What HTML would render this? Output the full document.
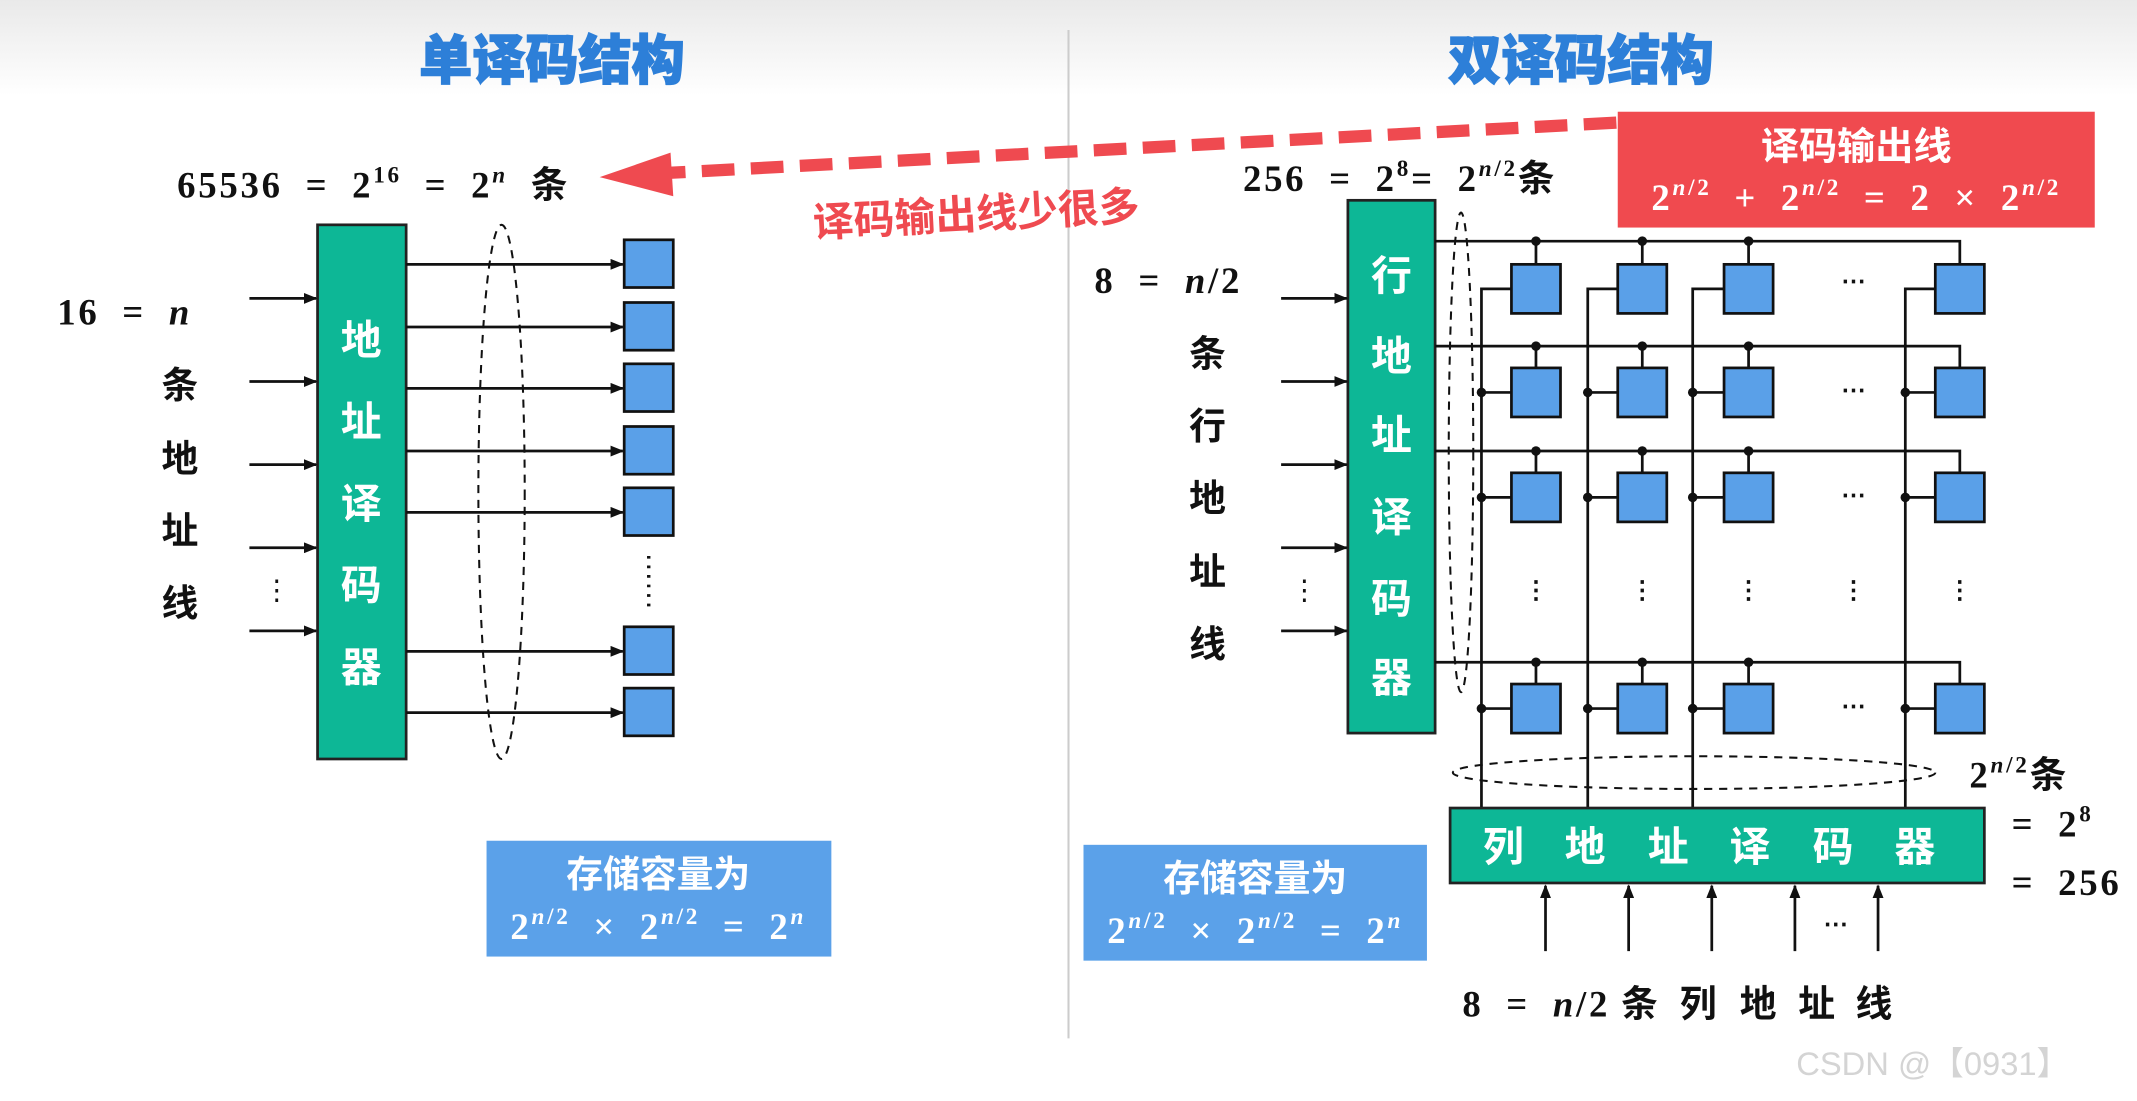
<!DOCTYPE html>
<html><head><meta charset="utf-8"><style>
html,body{margin:0;padding:0;background:#fff;}
svg{display:block;}
.cj{font-family:"Liberation Sans","Noto Sans CJK SC",sans-serif;font-weight:bold;letter-spacing:0;word-spacing:0;}
.m{font-family:"Liberation Serif","Noto Serif CJK SC",serif;font-weight:bold;letter-spacing:2px;word-spacing:8px;}
.t{font-family:"Liberation Sans","Noto Sans CJK SC",sans-serif;font-weight:900;}
</style></head><body>
<svg width="2137" height="1101" viewBox="0 0 1568 808" preserveAspectRatio="none" xmlns="http://www.w3.org/2000/svg">
<defs>
<linearGradient id="bg" x1="0" y1="0" x2="0" y2="1"><stop offset="0" stop-color="#e9e9e9"/><stop offset="1" stop-color="#ffffff"/></linearGradient>
<marker id="ar" markerWidth="10" markerHeight="8" refX="9" refY="4" orient="auto" markerUnits="userSpaceOnUse"><path d="M0,0 L10,4 L0,8 z" fill="#111"/></marker>
</defs>
<rect x="0" y="0" width="1568" height="808" fill="#fff"/>
<rect x="0" y="0" width="1568" height="70" fill="url(#bg)"/>
<line x1="784" y1="22" x2="784" y2="762" stroke="#ccc" stroke-width="1.5"/>

<text x="405" y="58" class="t" font-size="39" fill="#2d7fd8" stroke="#2d7fd8" stroke-width="1" text-anchor="middle">单译码结构</text>
<text x="1160" y="58" class="t" font-size="39" fill="#2d7fd8" stroke="#2d7fd8" stroke-width="1" text-anchor="middle">双译码结构</text>

<line x1="1186" y1="90" x2="488" y2="127" stroke="#ef4a50" stroke-width="9" stroke-dasharray="24,12"/>
<path d="M440,130 L492,112 L494,144 z" fill="#ef4a50"/>
<text x="597" y="174" class="cj" font-size="30" fill="#ef4a50" transform="rotate(-3 597 174)">译码输出线少很多</text>

<!-- LEFT -->
<text x="130" y="145" class="m" font-size="27" fill="#111">65536 = 2<tspan font-size="17" dy="-11">16</tspan><tspan dy="11"> = 2</tspan><tspan font-size="17" dy="-11" font-style="italic">n</tspan><tspan dy="11"> </tspan><tspan class="cj">条</tspan></text>
<rect x="233" y="165" width="65" height="392" fill="#0db796" stroke="#222" stroke-width="2"/>
<g class="cj" font-size="30" fill="#fff" text-anchor="middle">
<text x="265" y="260">地</text><text x="265" y="320">址</text><text x="265" y="380">译</text><text x="265" y="440">码</text><text x="265" y="500">器</text>
</g>
<g stroke="#111" stroke-width="2" marker-end="url(#ar)">
<line x1="183" y1="219" x2="232" y2="219"/><line x1="183" y1="280" x2="232" y2="280"/><line x1="183" y1="341" x2="232" y2="341"/><line x1="183" y1="402" x2="232" y2="402"/><line x1="183" y1="463" x2="232" y2="463"/>
</g>
<text x="203" y="440" font-family="Liberation Serif" font-size="20" fill="#111" text-anchor="middle">⋮</text>
<text x="42" y="238" class="m" font-size="27" fill="#111">16 =  <tspan font-style="italic">n</tspan></text>
<g class="cj" font-size="27" fill="#111" text-anchor="middle">
<text x="132" y="292">条</text><text x="132" y="346">地</text><text x="132" y="399">址</text><text x="132" y="452">线</text>
</g>
<g stroke="#111" stroke-width="2" marker-end="url(#ar)">
<line x1="298" y1="194" x2="457" y2="194"/><line x1="298" y1="240" x2="457" y2="240"/><line x1="298" y1="285" x2="457" y2="285"/><line x1="298" y1="331" x2="457" y2="331"/><line x1="298" y1="376" x2="457" y2="376"/><line x1="298" y1="478" x2="457" y2="478"/><line x1="298" y1="523" x2="457" y2="523"/>
</g>
<g fill="#5aa0e8" stroke="#111" stroke-width="2">
<rect x="458" y="176" width="36" height="35"/><rect x="458" y="222" width="36" height="35"/><rect x="458" y="267" width="36" height="35"/><rect x="458" y="313" width="36" height="35"/><rect x="458" y="358" width="36" height="35"/><rect x="458" y="460" width="36" height="35"/><rect x="458" y="505" width="36" height="35"/>
</g>
<line x1="476" y1="408" x2="476" y2="446" stroke="#111" stroke-width="2.5" stroke-dasharray="2,5"/>
<ellipse cx="368" cy="361" rx="17" ry="196" fill="none" stroke="#111" stroke-width="1.5" stroke-dasharray="6,5"/>
<rect x="357" y="617" width="253" height="85" fill="#5ba1e9"/>
<text x="483" y="651" class="cj" font-size="27" fill="#fff" text-anchor="middle">存储容量为</text>
<text x="483" y="689" class="m" font-size="27" fill="#fff" text-anchor="middle">2<tspan font-size="17" dy="-11" font-style="italic">n</tspan><tspan font-size="17">/2</tspan><tspan dy="11"> × 2</tspan><tspan font-size="17" dy="-11" font-style="italic">n</tspan><tspan font-size="17">/2</tspan><tspan dy="11"> = 2</tspan><tspan font-size="17" dy="-11" font-style="italic">n</tspan></text>

<!-- RIGHT -->
<rect x="1187" y="82" width="350" height="85" fill="#f04a4f"/>
<text x="1362" y="117" class="cj" font-size="28" fill="#fff" text-anchor="middle">译码输出线</text>
<text x="1362" y="154" class="m" font-size="27" fill="#fff" text-anchor="middle">2<tspan font-size="17" dy="-11" font-style="italic">n</tspan><tspan font-size="17">/2</tspan><tspan dy="11"> + 2</tspan><tspan font-size="17" dy="-11" font-style="italic">n</tspan><tspan font-size="17">/2</tspan><tspan dy="11"> = 2 × 2</tspan><tspan font-size="17" dy="-11" font-style="italic">n</tspan><tspan font-size="17">/2</tspan></text>
<text x="912" y="140" class="m" font-size="27" fill="#111">256 = 2<tspan font-size="17" dy="-11">8</tspan><tspan dy="11">= 2</tspan><tspan font-size="17" dy="-11" font-style="italic">n</tspan><tspan font-size="17">/2</tspan><tspan dy="11" class="cj">条</tspan></text>

<rect x="989" y="147" width="64" height="391" fill="#0db796" stroke="#222" stroke-width="2"/>
<g class="cj" font-size="30" fill="#fff" text-anchor="middle">
<text x="1021" y="213">行</text><text x="1021" y="272">地</text><text x="1021" y="330">址</text><text x="1021" y="390">译</text><text x="1021" y="450">码</text><text x="1021" y="508">器</text>
</g>
<g stroke="#111" stroke-width="2" marker-end="url(#ar)">
<line x1="940" y1="219" x2="988" y2="219"/><line x1="940" y1="280" x2="988" y2="280"/><line x1="940" y1="341" x2="988" y2="341"/><line x1="940" y1="402" x2="988" y2="402"/><line x1="940" y1="463" x2="988" y2="463"/>
</g>
<text x="957" y="440" font-family="Liberation Serif" font-size="20" fill="#111" text-anchor="middle">⋮</text>
<text x="803" y="215" class="m" font-size="27" fill="#111">8 = <tspan font-style="italic">n</tspan>/2</text>
<g class="cj" font-size="27" fill="#111" text-anchor="middle">
<text x="886" y="269">条</text><text x="886" y="322">行</text><text x="886" y="375">地</text><text x="886" y="429">址</text><text x="886" y="482">线</text>
</g>
<ellipse cx="1072" cy="332" rx="9" ry="176" fill="none" stroke="#111" stroke-width="1.5" stroke-dasharray="6,5"/>

<g stroke="#111" stroke-width="2" fill="none">
<path d="M1053,177 H1438 V194"/><path d="M1053,254 H1438 V270"/><path d="M1053,331 H1438 V347"/><path d="M1053,486 H1438 V502"/>
<path d="M1109,212 H1087 V593"/><path d="M1187,212 H1165 V593"/><path d="M1265,212 H1242 V593"/><path d="M1420,212 H1398 V593"/>
<path d="M1087,288 H1109 M1165,288 H1187 M1242,288 H1265 M1398,288 H1420"/>
<path d="M1087,365 H1109 M1165,365 H1187 M1242,365 H1265 M1398,365 H1420"/>
<path d="M1087,520 H1109 M1165,520 H1187 M1242,520 H1265 M1398,520 H1420"/>
<path d="M1127,177 V194 M1205,177 V194 M1283,177 V194"/>
<path d="M1127,254 V270 M1205,254 V270 M1283,254 V270"/>
<path d="M1127,331 V347 M1205,331 V347 M1283,331 V347"/>
<path d="M1127,486 V502 M1205,486 V502 M1283,486 V502"/>
</g>
<g fill="#111">
<circle cx="1127" cy="177" r="3.5"/><circle cx="1205" cy="177" r="3.5"/><circle cx="1283" cy="177" r="3.5"/>
<circle cx="1127" cy="254" r="3.5"/><circle cx="1205" cy="254" r="3.5"/><circle cx="1283" cy="254" r="3.5"/>
<circle cx="1127" cy="331" r="3.5"/><circle cx="1205" cy="331" r="3.5"/><circle cx="1283" cy="331" r="3.5"/>
<circle cx="1127" cy="486" r="3.5"/><circle cx="1205" cy="486" r="3.5"/><circle cx="1283" cy="486" r="3.5"/>
<circle cx="1087" cy="288" r="3.5"/><circle cx="1165" cy="288" r="3.5"/><circle cx="1242" cy="288" r="3.5"/><circle cx="1398" cy="288" r="3.5"/>
<circle cx="1087" cy="365" r="3.5"/><circle cx="1165" cy="365" r="3.5"/><circle cx="1242" cy="365" r="3.5"/><circle cx="1398" cy="365" r="3.5"/>
<circle cx="1087" cy="520" r="3.5"/><circle cx="1165" cy="520" r="3.5"/><circle cx="1242" cy="520" r="3.5"/><circle cx="1398" cy="520" r="3.5"/>
</g>
<g fill="#5aa0e8" stroke="#111" stroke-width="2">
<rect x="1109" y="194" width="36" height="36"/><rect x="1187" y="194" width="36" height="36"/><rect x="1265" y="194" width="36" height="36"/><rect x="1420" y="194" width="36" height="36"/>
<rect x="1109" y="270" width="36" height="36"/><rect x="1187" y="270" width="36" height="36"/><rect x="1265" y="270" width="36" height="36"/><rect x="1420" y="270" width="36" height="36"/>
<rect x="1109" y="347" width="36" height="36"/><rect x="1187" y="347" width="36" height="36"/><rect x="1265" y="347" width="36" height="36"/><rect x="1420" y="347" width="36" height="36"/>
<rect x="1109" y="502" width="36" height="36"/><rect x="1187" y="502" width="36" height="36"/><rect x="1265" y="502" width="36" height="36"/><rect x="1420" y="502" width="36" height="36"/>
</g>
<g font-family="Liberation Serif" font-weight="bold" font-size="18" fill="#111" text-anchor="middle">
<text x="1360" y="212">⋯</text><text x="1360" y="292">⋯</text><text x="1360" y="369">⋯</text><text x="1360" y="524">⋯</text>
<text x="1127" y="439">⋮</text><text x="1205" y="439">⋮</text><text x="1283" y="439">⋮</text><text x="1360" y="439">⋮</text><text x="1438" y="439">⋮</text>
</g>
<ellipse cx="1243" cy="567" rx="177" ry="12" fill="none" stroke="#111" stroke-width="1.5" stroke-dasharray="6,5"/>
<rect x="1064" y="593" width="392" height="55" fill="#0db796" stroke="#222" stroke-width="2"/>
<g class="cj" font-size="30" fill="#fff" text-anchor="middle">
<text x="1103" y="632">列</text><text x="1163" y="632">地</text><text x="1224" y="632">址</text><text x="1284" y="632">译</text><text x="1345" y="632">码</text><text x="1405" y="632">器</text>
</g>
<g stroke="#111" stroke-width="2" marker-end="url(#ar)">
<line x1="1134" y1="698" x2="1134" y2="650"/><line x1="1195" y1="698" x2="1195" y2="650"/><line x1="1256" y1="698" x2="1256" y2="650"/><line x1="1317" y1="698" x2="1317" y2="650"/><line x1="1378" y1="698" x2="1378" y2="650"/>
</g>
<text x="1347" y="684" font-family="Liberation Serif" font-weight="bold" font-size="18" fill="#111" text-anchor="middle">⋯</text>
<text x="1073" y="746" class="m" font-size="27" fill="#111">8 = <tspan font-style="italic">n</tspan>/2</text>
<g class="cj" font-size="27" fill="#111" text-anchor="middle">
<text x="1203" y="746">条</text><text x="1246" y="746">列</text><text x="1290" y="746">地</text><text x="1333" y="746">址</text><text x="1375" y="746">线</text>
</g>
<text x="1445" y="578" class="m" font-size="27" fill="#111">2<tspan font-size="17" dy="-11" font-style="italic">n</tspan><tspan font-size="17">/2</tspan><tspan dy="11" class="cj">条</tspan></text>
<text x="1476" y="614" class="m" font-size="27" fill="#111">= 2<tspan font-size="17" dy="-11">8</tspan></text>
<text x="1476" y="657" class="m" font-size="27" fill="#111">= 256</text>

<rect x="795" y="620" width="252" height="85" fill="#5ba1e9"/>
<text x="921" y="654" class="cj" font-size="27" fill="#fff" text-anchor="middle">存储容量为</text>
<text x="921" y="692" class="m" font-size="27" fill="#fff" text-anchor="middle">2<tspan font-size="17" dy="-11" font-style="italic">n</tspan><tspan font-size="17">/2</tspan><tspan dy="11"> × 2</tspan><tspan font-size="17" dy="-11" font-style="italic">n</tspan><tspan font-size="17">/2</tspan><tspan dy="11"> = 2</tspan><tspan font-size="17" dy="-11" font-style="italic">n</tspan></text>

<text x="1318" y="789" font-family="Liberation Sans, Noto Sans CJK SC, sans-serif" font-size="24" fill="#d4d4d4">CSDN @【0931】</text>
</svg>
</body></html>
